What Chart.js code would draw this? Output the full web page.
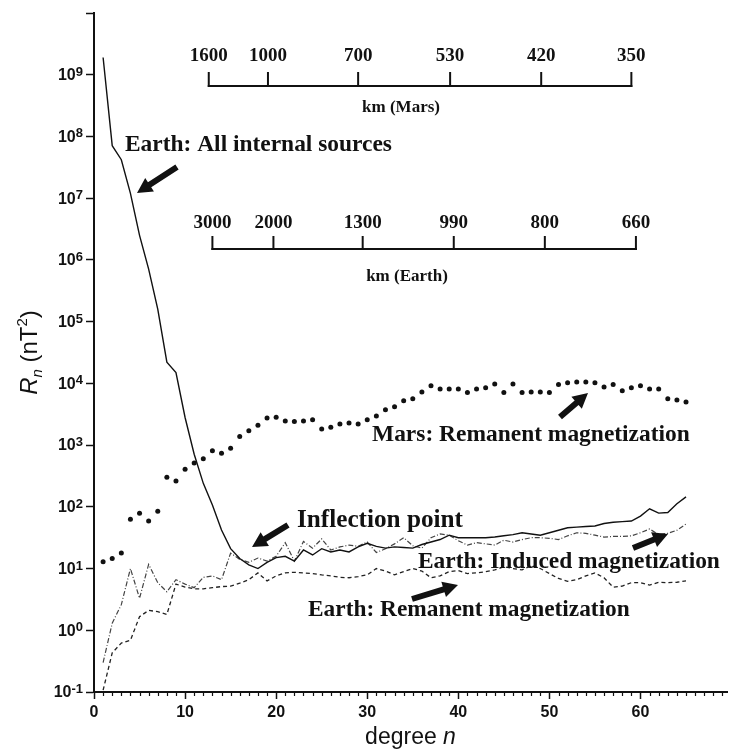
<!DOCTYPE html>
<html>
<head>
<meta charset="utf-8">
<script src="https://cdn.jsdelivr.net/npm/chart.js@4.4.1/dist/chart.umd.min.js"></script>
<style>
  html, body { margin: 0; padding: 0; background: #fff; }
  #wrap { width: 731px; height: 756px; }
</style>
</head>
<body>
<div id="wrap"><canvas id="spectrum" width="731" height="756"></canvas></div>
<script>
// spherical harmonic degree n
const degrees = [1, 2, 3, 4, 5, 6, 7, 8, 9, 10, 11, 12, 13, 14, 15, 16, 17, 18, 19, 20,
  21, 22, 23, 24, 25, 26, 27, 28, 29, 30, 31, 32, 33, 34, 35, 36, 37, 38, 39, 40,
  41, 42, 43, 44, 45, 46, 47, 48, 49, 50, 51, 52, 53, 54, 55, 56, 57, 58, 59, 60,
  61, 62, 63, 64, 65];

// R_n in nT^2
const earthAll = [1.9e9, 7.1e7, 4.2e7, 1.2e7, 2.5e6, 7.1e5, 1.6e5, 2.2e4, 1.5e4, 2.8e3,
  710, 240, 107, 42, 21, 14.5, 11.5, 10, 12.6, 15,
  15.8, 13.2, 20, 16.6, 21, 18.6, 20, 18.6, 22.4, 25.7,
  22.9, 21.4, 22.4, 21.9, 21.4, 24.5, 26.9, 29.5, 34.7, 31.6,
  31.6, 31.6, 31.6, 32.4, 33.9, 35.5, 38, 36.3, 34.7, 38,
  41.7, 45.7, 46.8, 47.9, 49, 53.7, 56.2, 57.5, 58.9, 70.8,
  93, 79, 81, 112, 145];

const earthInduced = [0.30, 1.3, 2.6, 10, 3.3, 11.7, 5.9, 4.2, 6.6, 5.6,
  4.9, 7.2, 7.6, 6.6, 17.8, 14.1, 12.6, 14.8, 13.2, 15.8,
  26.3, 13.2, 27.5, 21.4, 30.2, 20, 22.4, 24, 22.9, 26.9,
  18.2, 20.9, 25.1, 31.6, 23.4, 21.4, 31.6, 36.3, 34.7, 28.2,
  24, 26.3, 25.1, 24, 28.8, 26.9, 29.5, 31.6, 31.6, 30.9,
  29.5, 33.9, 38, 37.2, 34.7, 32.4, 33.1, 33.1, 33.9, 38,
  43.7, 35.5, 37.2, 41.7, 52.5];

const earthRemanent = [0.107, 0.43, 0.62, 0.69, 1.66, 2.1, 2.0, 1.8, 5.6, 5.0,
  4.7, 4.7, 4.9, 5.1, 5.2, 5.8, 6.6, 8.5, 6.3, 7.6,
  8.5, 8.7, 8.5, 8.3, 7.9, 7.6, 7.2, 7.1, 7.4, 7.9,
  10, 9.1, 7.9, 8.9, 10, 9.1, 7.1, 7.6, 8.9, 9.3,
  8.3, 8.5, 8.9, 9.5, 10.7, 10, 9.5, 11.2, 10, 8.3,
  6.9, 6.2, 6.6, 7.6, 8.5, 7.1, 5.0, 5.2, 5.9, 5.9,
  5.4, 6.0, 5.9, 6.0, 6.3];

const marsRemanent = [12.9, 14.5, 17.8, 63, 79, 59, 85, 300, 263, 407,
  513, 603, 813, 741, 891, 1380, 1700, 2090, 2750, 2820,
  2450, 2400, 2450, 2570, 1820, 1950, 2190, 2290, 2190, 2570,
  2950, 3720, 4170, 5250, 5620, 7240, 9120, 8130, 8130, 8130,
  7080, 8130, 8510, 9770, 7080, 9770, 7080, 7240, 7240, 7080,
  9550, 10200, 10500, 10500, 10200, 8710, 9550, 7590, 8510, 9120,
  8130, 8130, 5620, 5370, 5010];

// axis ticks
const xTicks = [0, 10, 20, 30, 40, 50, 60];
const yExponents = [-1, 0, 1, 2, 3, 4, 5, 6, 7, 8, 9, 10];

// wavelength scales drawn across the top (placed at degree n)
const marsScaleDegree = [12.6, 19.1, 29, 39.1, 49.1, 59];
const marsScaleKm = ['1600', '1000', '700', '530', '420', '350'];
const earthScaleDegree = [13, 19.7, 29.5, 39.5, 49.5, 59.5];
const earthScaleKm = ['3000', '2000', '1300', '990', '800', '660'];

const SANS = '"Liberation Sans", Arial, sans-serif';
const SERIF = '"Liberation Serif", "Times New Roman", serif';
const INK = '#111';

function toPoints(ys) {
  return degrees.map((n, i) => ({ x: n, y: ys[i] }));
}

// filled arrow from tail to tip
function arrow(ctx, x0, y0, x1, y1) {
  const ang = Math.atan2(y1 - y0, x1 - x0);
  const len = Math.hypot(x1 - x0, y1 - y0);
  const headLen = 15, headW = 8, bodyW = 3;
  ctx.save();
  ctx.translate(x0, y0);
  ctx.rotate(ang);
  ctx.beginPath();
  ctx.moveTo(0, -bodyW);
  ctx.lineTo(len - headLen, -bodyW);
  ctx.lineTo(len - headLen, -headW);
  ctx.lineTo(len, 0);
  ctx.lineTo(len - headLen, headW);
  ctx.lineTo(len - headLen, bodyW);
  ctx.lineTo(0, bodyW);
  ctx.closePath();
  ctx.fill();
  ctx.restore();
}

// bold serif label squeezed to span x0..x1
function fitLabel(ctx, text, x0, x1, y) {
  ctx.font = 'bold 20px ' + SERIF;
  const w = ctx.measureText(text).width;
  const size = 20 * (x1 - x0) / w;
  ctx.font = 'bold ' + size.toFixed(2) + 'px ' + SERIF;
  ctx.textAlign = 'left';
  ctx.textBaseline = 'middle';
  ctx.fillText(text, x0, y);
}

// draw a sequence of text runs, each {t, f, dy}, starting at x
function runs(ctx, parts, x, y) {
  ctx.textAlign = 'left';
  ctx.textBaseline = 'alphabetic';
  parts.forEach(p => {
    ctx.font = p.f;
    ctx.fillText(p.t, x, y + (p.dy || 0));
    x += ctx.measureText(p.t).width;
  });
}
function runsWidth(ctx, parts) {
  let w = 0;
  parts.forEach(p => { ctx.font = p.f; w += ctx.measureText(p.t).width; });
  return w;
}

const decorations = {
  id: 'decorations',
  afterDraw(chart) {
    const ctx = chart.ctx;
    const xs = chart.scales.x, ys = chart.scales.y;
    const area = chart.chartArea;
    ctx.save();
    ctx.fillStyle = INK;
    ctx.strokeStyle = INK;

    // minor ticks every degree
    ctx.lineWidth = 1.2;
    for (let v = 1; v < 70; v++) {
      if (v % 10 === 0) continue;
      const px = Math.round(xs.getPixelForValue(v)) + 0.5;
      ctx.beginPath();
      ctx.moveTo(px, area.bottom);
      ctx.lineTo(px, area.bottom + 4);
      ctx.stroke();
    }

    // y tick labels 10^k
    yExponents.forEach(e => {
      if (e === 10) return;
      const py = ys.getPixelForValue(Math.pow(10, e));
      ctx.font = 'bold 13px ' + SANS;
      const ws = ctx.measureText(String(e)).width;
      ctx.font = 'bold 16px ' + SANS;
      const wm = ctx.measureText('10').width;
      const right = area.left - 11;
      ctx.textAlign = 'left';
      ctx.textBaseline = 'middle';
      ctx.fillText('10', right - ws - wm, py + 1);
      ctx.font = 'bold 13px ' + SANS;
      ctx.textBaseline = 'alphabetic';
      ctx.fillText(String(e), right - ws, py + 1);
    });

    // y axis title: R_n (nT^2)
    const ytitle = [
      { t: 'R', f: 'italic 24px ' + SANS },
      { t: 'n', f: 'italic 15px ' + SANS, dy: 5 },
      { t: ' (nT', f: '24px ' + SANS },
      { t: '2', f: '15px ' + SANS, dy: -10 },
      { t: ')', f: '24px ' + SANS }
    ];
    ctx.save();
    ctx.translate(37, (area.top + area.bottom) / 2);
    ctx.rotate(-Math.PI / 2);
    runs(ctx, ytitle, -runsWidth(ctx, ytitle) / 2, 0);
    ctx.restore();

    // x axis title: degree n
    const xtitle = [
      { t: 'degree ', f: '23px ' + SANS },
      { t: 'n', f: 'italic 23px ' + SANS }
    ];
    runs(ctx, xtitle, (area.left + area.right) / 2 - runsWidth(ctx, xtitle) / 2, 744);

    // wavelength scale bars
    function scaleBar(degs, labels, yBar, tickH, yLabel, title, xTitle, yTitle) {
      const px = degs.map(d => xs.getPixelForValue(d));
      ctx.lineWidth = 2;
      ctx.lineCap = 'square';
      ctx.beginPath();
      ctx.moveTo(px[0], yBar);
      ctx.lineTo(px[px.length - 1], yBar);
      ctx.stroke();
      px.forEach(p => {
        ctx.beginPath();
        ctx.moveTo(p, yBar);
        ctx.lineTo(p, yBar - tickH);
        ctx.stroke();
      });
      ctx.font = 'bold 19px ' + SERIF;
      ctx.textAlign = 'center';
      ctx.textBaseline = 'middle';
      labels.forEach((t, i) => ctx.fillText(t, px[i], yLabel));
      ctx.font = 'bold 17px ' + SERIF;
      ctx.fillText(title, xTitle, yTitle);
    }
    scaleBar(marsScaleDegree, marsScaleKm, 86, 13, 56, 'km (Mars)', 401, 108);
    scaleBar(earthScaleDegree, earthScaleKm, 249, 12, 223, 'km (Earth)', 407, 277);

    // curve labels and arrows
    fitLabel(ctx, 'Earth: All internal sources', 125, 392, 145);
    arrow(ctx, 177, 167, 137, 193);
    fitLabel(ctx, 'Mars: Remanent magnetization', 372, 690, 435);
    arrow(ctx, 560, 417, 588, 393);
    fitLabel(ctx, 'Inflection point', 297, 463, 520);
    arrow(ctx, 288, 525, 252, 547);
    fitLabel(ctx, 'Earth: Induced magnetization', 418, 720, 562);
    arrow(ctx, 633, 548, 668, 534);
    fitLabel(ctx, 'Earth: Remanent magnetization', 308, 630, 610);
    arrow(ctx, 412, 599, 458, 585);

    ctx.restore();
  }
};

new Chart(document.getElementById('spectrum').getContext('2d'), {
  type: 'line',
  data: {
    datasets: [
      {
        label: 'Earth: All internal sources',
        data: toPoints(earthAll),
        borderColor: INK,
        borderWidth: 1.4,
        pointRadius: 0,
        fill: false
      },
      {
        label: 'Earth: Induced magnetization',
        data: toPoints(earthInduced),
        borderColor: '#444',
        borderWidth: 1.2,
        borderDash: [5, 2, 1, 2],
        pointRadius: 0,
        fill: false
      },
      {
        label: 'Earth: Remanent magnetization',
        data: toPoints(earthRemanent),
        borderColor: '#222',
        borderWidth: 1.3,
        borderDash: [4, 3],
        pointRadius: 0,
        fill: false
      },
      {
        label: 'Mars: Remanent magnetization',
        data: toPoints(marsRemanent),
        showLine: false,
        pointRadius: 2.5,
        pointBorderWidth: 0,
        pointBackgroundColor: INK
      }
    ]
  },
  options: {
    responsive: false,
    animation: false,
    devicePixelRatio: 1,
    layout: { padding: { top: 13, right: 1, left: 0, bottom: 0 } },
    plugins: {
      legend: { display: false },
      tooltip: { enabled: false }
    },
    scales: {
      x: {
        type: 'linear',
        min: 0,
        max: 69.5,
        afterBuildTicks: s => { s.ticks = xTicks.map(v => ({ value: v })); },
        afterFit: s => { s.height = 64; },
        border: { display: true, color: INK, width: 2 },
        grid: { drawOnChartArea: false, drawTicks: true, tickLength: 7, tickColor: INK, tickWidth: 1.5 },
        ticks: { color: INK, font: { family: SANS, size: 16, weight: 'bold' }, padding: 4, maxRotation: 0 }
      },
      y: {
        type: 'logarithmic',
        min: 0.1,
        max: 1e10,
        afterBuildTicks: s => { s.ticks = yExponents.map(e => ({ value: Math.pow(10, e) })); },
        afterFit: s => { s.width = 94; },
        border: { display: true, color: INK, width: 2 },
        grid: { drawOnChartArea: false, drawTicks: true, tickLength: 8, tickColor: INK, tickWidth: 1.5 },
        ticks: { display: false }
      }
    }
  },
  plugins: [decorations]
});
</script>
</body>
</html>
